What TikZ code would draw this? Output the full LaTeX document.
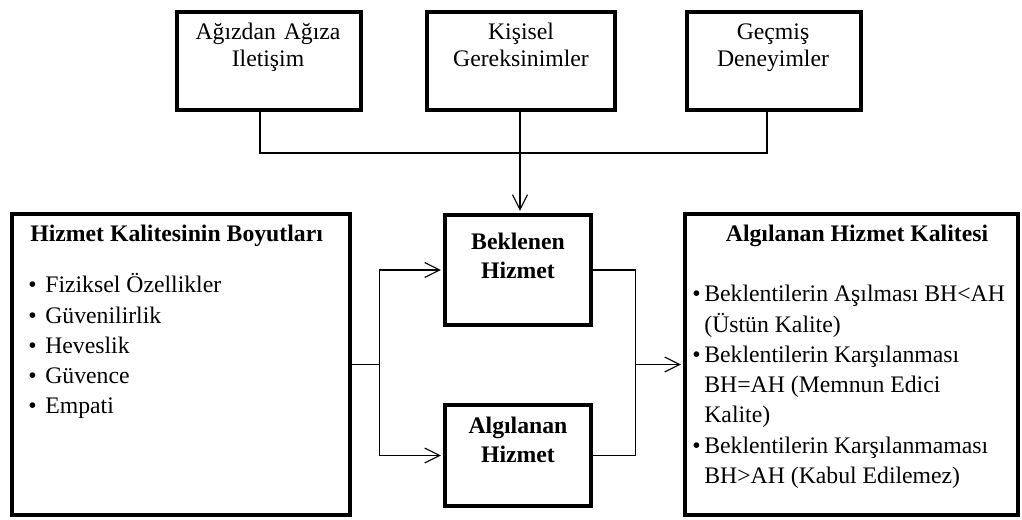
\documentclass[tikz,border=0pt]{standalone}
\usepackage{fontspec}
\setmainfont{Liberation Serif}
\usetikzlibrary{arrows.meta}

\newcommand{\imlec}[1]{\makebox[#1][l]{\textbullet}}

\tikzset{
  kutu/.style={draw, line width=2.4pt, inner sep=0pt},
  ince/.style={line width=0.6pt},
  ok/.style={-{Straight Barb[length=8.5pt,width=8.5pt]}, shorten >=1.2pt},
  yazi/.style={inner sep=0pt, align=center, text width=3.4cm, font=\fontsize{13.5pt}{0.54cm}\selectfont},
  kalin/.style={inner sep=0pt, align=center, text width=2.8cm, font=\bfseries\fontsize{13.5pt}{0.58cm}\selectfont},
  liste/.style={inner sep=0pt, align=flush left, text width=6.4cm, font=\fontsize{13.5pt}{0.605cm}\selectfont},
  baslik/.style={inner sep=0pt, font=\bfseries\fontsize{13.5pt}{0.6cm}\selectfont}
}

\begin{document}
\begin{tikzpicture}[x=0.02cm, y=-0.02cm]
\useasboundingbox (0,0) rectangle (1022,520);

% ust kutular
\node[kutu, minimum width=3.68cm, minimum height=1.96cm] (ago) at (269,61) {};
\node[kutu, minimum width=3.76cm, minimum height=1.96cm] (kis) at (521,61) {};
\node[kutu, minimum width=3.48cm, minimum height=1.96cm] (gec) at (774,61) {};
\node[yazi, anchor=base] (agoT) at (268,40) {Ağızdan Ağıza\\Iletişim};
\node[yazi, anchor=base] (kisT) at (521,40) {Kişisel\\Gereksinimler};
\node[yazi, anchor=base] (gecT) at (773,40) {Geçmiş\\Deneyimler};

% orta kutular
\node[kutu, minimum width=2.92cm, minimum height=2.2cm] (bek) at (518,270) {};
\node[kutu, minimum width=2.92cm, minimum height=2.02cm] (alg) at (518,455.5) {};
\node[kalin, anchor=base] (bekT) at (518,250) {Beklenen\\Hizmet};
\node[kalin, anchor=base] (algT) at (518,434) {Algılanan\\Hizmet};

% sol kutu
\node[kutu, minimum width=6.76cm, minimum height=6.02cm] (lb) at (181,364.5) {};
\node[baslik, anchor=base west] (lbT) at (30,242) {Hizmet Kalitesinin Boyutları};
\node[liste, anchor=base west] (lbL) at (28,293) {%
\imlec{.34cm}Fiziksel Özellikler\\
\imlec{.34cm}Güvenilirlik\\
\imlec{.34cm}Heveslik\\
\imlec{.34cm}Güvence\\
\imlec{.34cm}Empati};

% sag kutu
\node[kutu, minimum width=6.66cm, minimum height=6.02cm] (rb) at (851.5,364.5) {};
\node[baslik, anchor=base] (rbT) at (857,242) {Algılanan Hizmet Kalitesi};
\node[liste, anchor=base west] (rbL) at (692,302) {%
\imlec{.24cm}Beklentilerin Aşılması BH<AH\\
\hspace*{.24cm}(Üstün Kalite)\\
\imlec{.24cm}Beklentilerin Karşılanması\\
\hspace*{.24cm}BH=AH (Memnun Edici\\
\hspace*{.24cm}Kalite)\\
\imlec{.24cm}Beklentilerin Karşılanmaması\\
\hspace*{.24cm}BH>AH (Kabul Edilemez)};

% baglantilar
\coordinate (birles) at (520,153);
\draw[ince] ([xshift=-0.18cm]ago.south) |- (birles) -| ([xshift=-0.14cm]gec.south);
\draw[ince, ok] ([xshift=-0.02cm]kis.south) -- ([xshift=-0.02cm]kis.south |- bek.north);

\draw[ince] (lb.east) -- ++(27,0) coordinate (ayir);
\draw[ince, ok] (ayir) |- (bek.west);
\draw[ince, ok] (ayir) |- (alg.west);

\draw[ince] (bek.east) -- ++(42,0) coordinate (topla) |- (alg.east);
\draw[ince, ok] (topla |- rb.west) -- (rb.west);
\end{tikzpicture}
\end{document}
